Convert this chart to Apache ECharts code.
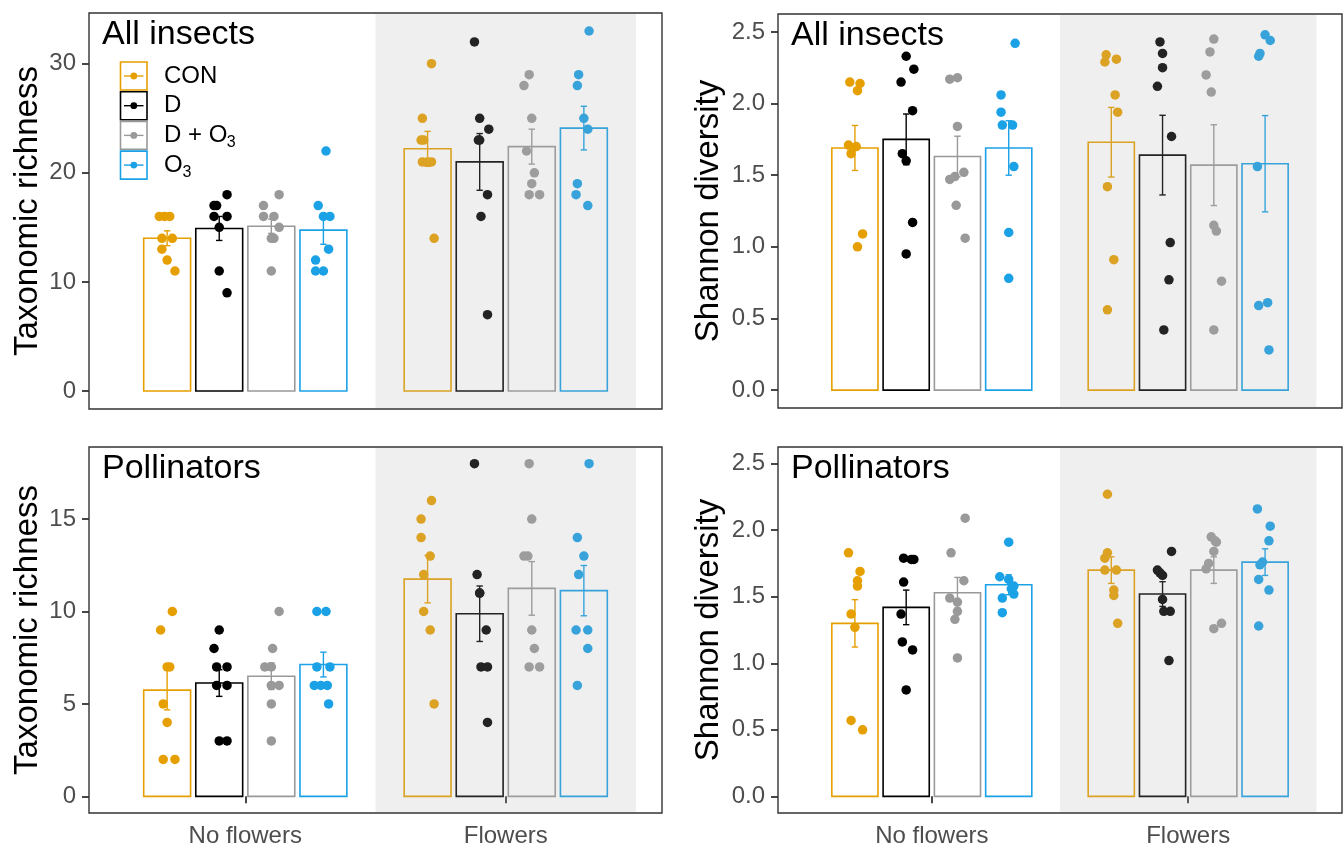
<!DOCTYPE html>
<html>
<head>
<meta charset="utf-8">
<script src="https://cdn.jsdelivr.net/npm/echarts@6/dist/echarts.min.js"></script>
<style>
html, body { margin: 0; padding: 0; background: #fff; }
#chart { width: 1344px; height: 847px; }
</style>
</head>
<body>
<div id="chart"></div>
<script>
// treatments and habitat categories
var treatments = ['CON', 'D', 'D + O3', 'O3'];
var habitats = ['No flowers', 'Flowers'];

// All insects - taxonomic richness  [no flowers], [flowers]
var richAllMean = [[14.0, 14.9, 15.1, 14.75], [22.2, 21.0, 22.4, 24.1]];
var richAllSe = [[0.68, 1.1, 0.65, 1.3], [1.6, 2.6, 1.6, 2.0]];
// points: [jitter offset, value]
var richAllPts = [
  [
    [[-0.03,16],[0.01,16],[-0.01,16],[-0.02,14],[0.02,14],[-0.02,13],[0.0,12],[0.03,11]],
    [[0.03,18],[-0.02,17],[-0.01,17],[-0.02,16],[0.03,16],[0.0,15],[0.0,11],[0.03,9]],
    [[0.03,18],[-0.03,17],[-0.03,16],[0.01,16],[0.03,15],[0.0,14],[0.01,14],[0.0,11]],
    [[0.01,22],[-0.02,17],[0.0,16],[0.025,16],[0.02,13],[-0.03,12],[-0.03,11],[0.0,11]]
  ],
  [
    [[0.015,30],[-0.02,25],[-0.025,23],[-0.015,23],[-0.02,21],[0.0,21],[0.015,21],[0.025,14]],
    [[-0.02,32],[0.0,25],[0.035,24],[-0.005,23],[0.0,23],[0.03,18],[0.005,16],[0.03,7]],
    [[-0.01,29],[-0.03,28],[0.0,25],[-0.02,22],[0.01,20],[0.0,19],[-0.01,18],[0.03,18]],
    [[0.02,33],[-0.02,29],[-0.025,28],[0.0,25],[0.015,24],[-0.025,19],[-0.03,18],[0.015,17]]
  ]
];

// All insects - Shannon diversity
var shanAllMean = [[1.69, 1.75, 1.63, 1.69], [1.73, 1.64, 1.57, 1.58]];
var shanAllSe = [[0.157, 0.177, 0.142, 0.19], [0.243, 0.278, 0.282, 0.336]];
var shanAllPts = [
  [
    [[-0.02,2.15],[0.02,2.14],[0.01,2.09],[-0.025,1.71],[0.005,1.70],[-0.015,1.65],[0.03,1.09],[0.01,1.00]],
    [[0.0,2.33],[0.03,2.24],[-0.02,2.15],[0.025,1.95],[-0.015,1.65],[0.0,1.60],[0.025,1.17],[0.0,0.95]],
    [[-0.03,2.17],[0.0,2.18],[0.0,1.84],[-0.03,1.47],[-0.01,1.49],[0.025,1.52],[-0.005,1.29],[0.03,1.06]],
    [[0.025,2.42],[-0.03,2.06],[-0.03,1.94],[-0.025,1.85],[0.015,1.85],[0.02,1.56],[0.0,1.10],[0.0,0.78]]
  ],
  [
    [[-0.02,2.34],[-0.025,2.29],[0.02,2.31],[0.015,2.06],[0.025,1.94],[-0.015,1.42],[0.01,0.91],[-0.015,0.56]],
    [[-0.01,2.43],[0.0,2.35],[0.0,2.25],[-0.02,2.12],[0.035,1.77],[0.03,1.03],[0.025,0.77],[0.005,0.42]],
    [[0.0,2.45],[-0.015,2.36],[-0.03,2.20],[-0.01,2.08],[0.0,1.15],[0.01,1.11],[0.03,0.76],[0.0,0.42]],
    [[0.0,2.48],[0.02,2.44],[-0.02,2.35],[-0.025,2.33],[-0.03,1.56],[-0.025,0.59],[0.01,0.61],[0.015,0.28]]
  ]
];

// Pollinators - taxonomic richness
var richPolMean = [[5.75, 6.13, 6.5, 7.13], [11.75, 9.88, 11.25, 11.13]];
var richPolSe = [[1.07, 0.72, 0.72, 0.67], [1.28, 1.5, 1.45, 1.36]];
var richPolPts = [
  [
    [[0.02,10],[-0.025,9],[0.01,7],[0.0,7],[-0.015,5],[0.0,4],[-0.015,2],[0.03,2]],
    [[0.0,9],[-0.02,8],[-0.01,7],[0.03,7],[-0.01,6],[0.03,6],[0.0,3],[0.03,3]],
    [[0.03,10],[0.005,8],[-0.025,7],[0.0,7],[0.0,6],[0.03,6],[0.0,5],[0.0,3]],
    [[-0.025,10],[0.01,10],[-0.025,7],[0.025,7],[-0.035,6],[-0.01,6],[0.015,6],[0.02,5]]
  ],
  [
    [[0.015,16],[-0.025,15],[-0.025,14],[0.01,13],[-0.015,12],[-0.015,10],[0.01,9],[0.025,5]],
    [[-0.02,18],[-0.01,12],[0.0,11],[0.0,11],[0.025,9],[0.005,7],[0.03,7],[0.03,4]],
    [[-0.01,18],[0.0,15],[-0.03,13],[-0.015,13],[0.0,9],[0.01,8],[-0.01,7],[0.03,7]],
    [[0.02,18],[-0.025,14],[0.0,13],[-0.02,12],[-0.03,9],[0.015,9],[0.015,8],[-0.025,6]]
  ]
];

// Pollinators - Shannon diversity
var shanPolMean = [[1.30, 1.42, 1.53, 1.59], [1.70, 1.52, 1.70, 1.76]];
var shanPolSe = [[0.178, 0.13, 0.115, 0.075], [0.1, 0.093, 0.1, 0.1]];
var shanPolPts = [
  [
    [[-0.025,1.83],[0.02,1.69],[0.01,1.62],[0.01,1.58],[-0.015,1.37],[0.0,1.27],[-0.015,0.57],[0.03,0.50]],
    [[-0.01,1.79],[0.02,1.78],[0.03,1.78],[-0.01,1.61],[-0.02,1.37],[-0.015,1.16],[0.025,1.10],[0.0,0.80]],
    [[0.03,2.09],[-0.025,1.83],[0.025,1.62],[-0.03,1.49],[0.0,1.46],[0.0,1.39],[-0.01,1.33],[0.0,1.04]],
    [[0.0,1.91],[-0.035,1.65],[0.0,1.63],[0.02,1.58],[0.02,1.52],[-0.025,1.49],[-0.025,1.38],[0.01,1.56]]
  ],
  [
    [[-0.015,2.27],[-0.015,1.83],[-0.025,1.79],[-0.025,1.70],[0.02,1.70],[0.01,1.55],[0.01,1.51],[0.025,1.30]],
    [[0.035,1.84],[-0.02,1.70],[-0.01,1.68],[0.0,1.66],[0.0,1.48],[0.005,1.39],[0.03,1.39],[0.025,1.02]],
    [[-0.01,1.95],[0.01,1.91],[0.0,1.84],[-0.02,1.75],[-0.03,1.71],[0.03,1.30],[0.0,1.26],[0.005,1.92]],
    [[-0.03,2.16],[0.02,2.03],[0.015,1.92],[-0.02,1.74],[-0.01,1.76],[-0.025,1.63],[0.015,1.55],[-0.025,1.28]]
  ]
];

var richTicks = [0, 10, 20, 30];
var richPolTicks = [0, 5, 10, 15];
var shanTicks = [0, 0.5, 1.0, 1.5, 2.0, 2.5];

var colors = ['#E69F00', '#000000', '#999999', '#1BA1E6'];
var FONT = "'Liberation Sans', Arial, sans-serif";

var panels = [
  { label: 'All insects', mean: richAllMean, se: richAllSe, pts: richAllPts, ticks: richTicks,
    min: -1.65, max: 34.65, name: 'Taxonomic richness', grid: { left: 89, top: 13, width: 573, height: 396 }, bottomRow: false, dec: 0 },
  { label: 'All insects', mean: shanAllMean, se: shanAllSe, pts: shanAllPts, ticks: shanTicks,
    min: -0.125, max: 2.625, name: 'Shannon diversity', grid: { left: 778, top: 14, width: 564, height: 394 }, bottomRow: false, dec: 1 },
  { label: 'Pollinators', mean: richPolMean, se: richPolSe, pts: richPolPts, ticks: richPolTicks,
    min: -0.9, max: 18.9, name: 'Taxonomic richness', grid: { left: 89, top: 447, width: 573, height: 366 }, bottomRow: true, dec: 0 },
  { label: 'Pollinators', mean: shanPolMean, se: shanPolSe, pts: shanPolPts, ticks: shanTicks,
    min: -0.125, max: 2.625, name: 'Shannon diversity', grid: { left: 778, top: 447, width: 564, height: 366 }, bottomRow: true, dec: 1 }
];

function slotX(h, t) {
  return h + (t - 1.5) * 0.2;
}

function renderBar(params, api) {
  var t = api.value(1);
  var cx = slotX(api.value(0), t);
  var p0 = api.coord([cx - 0.09, api.value(2)]);
  var p1 = api.coord([cx + 0.09, 0]);
  return {
    type: 'rect',
    shape: { x: p0[0], y: p0[1], width: p1[0] - p0[0], height: p1[1] - p0[1] },
    style: { fill: 'rgba(0,0,0,0)', stroke: colors[t], lineWidth: 1.6 }
  };
}

function renderErr(params, api) {
  var t = api.value(1);
  var cx = slotX(api.value(0), t);
  var m = api.value(2), s = api.value(3);
  var top = api.coord([cx, m + s]);
  var bot = api.coord([cx, m - s]);
  var cw = 3.2;
  var st = { stroke: colors[t], lineWidth: 1.4 };
  return {
    type: 'group',
    children: [
      { type: 'line', shape: { x1: top[0], y1: top[1], x2: bot[0], y2: bot[1] }, style: st },
      { type: 'line', shape: { x1: top[0] - cw, y1: top[1], x2: top[0] + cw, y2: top[1] }, style: st },
      { type: 'line', shape: { x1: bot[0] - cw, y1: bot[1], x2: bot[0] + cw, y2: bot[1] }, style: st }
    ]
  };
}

function renderShade(params, api) {
  var cs = params.coordSys;
  var a = api.coord([api.value(0), 0]);
  var b = api.coord([api.value(1), 0]);
  return {
    type: 'rect',
    shape: { x: a[0], y: cs.y + 1, width: b[0] - a[0], height: cs.height - 2 },
    style: { fill: 'rgba(173,173,173,0.2)' }
  };
}

var grids = [], xAxes = [], yAxes = [], series = [], titles = [];

panels.forEach(function (p, i) {
  grids.push({ left: p.grid.left, top: p.grid.top, width: p.grid.width, height: p.grid.height,
    show: true, borderColor: '#333333', borderWidth: 1.4, backgroundColor: '#fff',
    containLabel: false, outerBoundsMode: 'none' });

  xAxes.push({
    type: 'value', gridIndex: i, min: 0.4, max: 2.6,
    splitLine: { show: false }, axisLine: { show: false },
    axisTick: { show: p.bottomRow, customValues: [1, 2], length: 7, lineStyle: { color: '#333333', width: 1.8 } },
    axisLabel: { show: p.bottomRow, customValues: [1, 2], margin: 11,
      formatter: function (v) { return habitats[Math.round(v) - 1]; },
      color: '#4D4D4D', fontSize: 24, fontFamily: FONT }
  });

  yAxes.push({
    type: 'value', gridIndex: i, min: p.min, max: p.max,
    splitLine: { show: false }, axisLine: { show: false },
    axisTick: { show: true, customValues: p.ticks, length: 7, lineStyle: { color: '#333333', width: 1.8 } },
    axisLabel: { customValues: p.ticks, margin: 13, color: '#4D4D4D', fontSize: 24, fontFamily: FONT,
      formatter: (function (d) { return function (v) { return v.toFixed(d); }; })(p.dec) },
    name: p.name, nameLocation: 'middle', nameGap: i % 2 === 0 ? 45 : 53,
    nameTextStyle: { fontSize: 33, color: '#000', fontFamily: FONT }
  });

  titles.push({ text: p.label, left: p.grid.left + 13, top: p.grid.top + 5, padding: 0,
    textStyle: { fontSize: 34, fontWeight: 'normal', color: '#000', fontFamily: FONT } });

  var barData = [], errData = [], ptData = [];
  for (var h = 0; h < 2; h++) {
    for (var t = 0; t < 4; t++) {
      barData.push([h + 1, t, p.mean[h][t]]);
      errData.push([h + 1, t, p.mean[h][t], p.se[h][t]]);
      p.pts[h][t].forEach(function (q) {
        ptData.push({ value: [slotX(h + 1, t) + q[0], q[1]], itemStyle: { color: colors[t] } });
      });
    }
  }

  series.push({ type: 'custom', xAxisIndex: i, yAxisIndex: i, renderItem: renderBar, data: barData, z: 2, silent: true });
  series.push({ type: 'scatter', xAxisIndex: i, yAxisIndex: i, data: ptData, symbolSize: 9.5, z: 3, silent: true,
    itemStyle: { opacity: 1 } });
  series.push({ type: 'custom', xAxisIndex: i, yAxisIndex: i, renderItem: renderErr, data: errData, z: 4, silent: true });
  series.push({ type: 'custom', xAxisIndex: i, yAxisIndex: i, renderItem: renderShade, data: [[1.5, 2.5]], z: 5, silent: true });
});

// legend drawn inside the first panel
var legendRows = [76, 105.7, 135.4, 165.1];
var legendEls = [];
treatments.forEach(function (name, t) {
  var cy = legendRows[t];
  legendEls.push({ type: 'rect', shape: { x: 120.5, y: cy - 14, width: 26.5, height: 28 },
    style: { fill: '#fff', stroke: colors[t], lineWidth: 1.6 } });
  legendEls.push({ type: 'line', shape: { x1: 124, y1: cy, x2: 143.5, y2: cy },
    style: { stroke: colors[t], lineWidth: 1.4 } });
  legendEls.push({ type: 'circle', shape: { cx: 133.8, cy: cy, r: 3.4 }, style: { fill: colors[t] } });
  var main = name.indexOf('O3') >= 0 ? name.replace('O3', 'O') : name;
  legendEls.push({ type: 'text', x: 164, y: cy,
    style: { text: main, fontSize: 24, fontFamily: FONT, fill: '#000', verticalAlign: 'middle' } });
  if (main !== name) {
    legendEls.push({ type: 'text', x: name === 'O3' ? 182.5 : 226.8, y: cy + 7,
      style: { text: '3', fontSize: 16, fontFamily: FONT, fill: '#000', verticalAlign: 'middle' } });
  }
});

var chart = echarts.init(document.getElementById('chart'), null, { renderer: 'canvas' });
chart.setOption({
  animation: false,
  backgroundColor: '#fff',
  title: titles,
  grid: grids,
  xAxis: xAxes,
  yAxis: yAxes,
  series: series,
  graphic: [{ type: 'group', z: 20, children: legendEls }]
});
</script>
</body>
</html>
